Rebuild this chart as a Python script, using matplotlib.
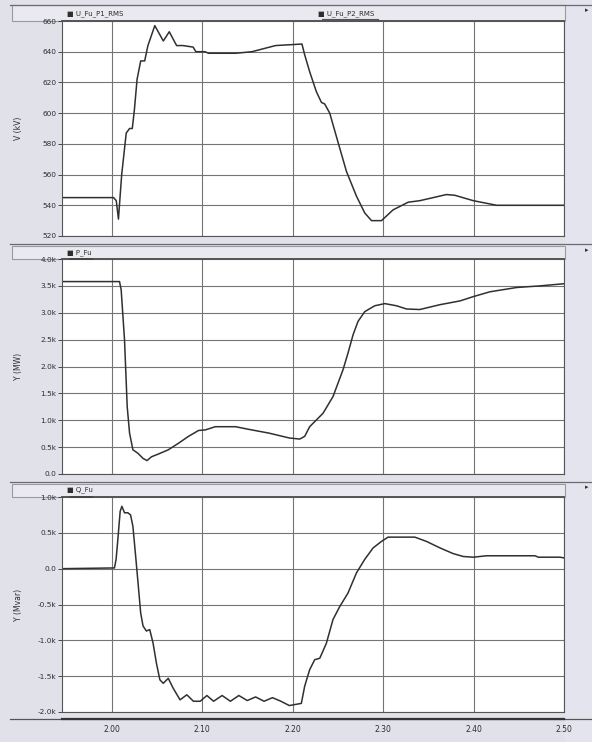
import matplotlib
matplotlib.use("Agg")
import matplotlib.pyplot as plt
from matplotlib.patches import Rectangle
from matplotlib.lines import Line2D

# ---------------- data ----------------
u_t = [1.945, 2.002, 2.005, 2.0074, 2.011, 2.016, 2.0197, 2.0227, 2.025, 2.028, 2.032, 2.0364,
       2.040, 2.0476, 2.057, 2.0636, 2.0717, 2.079, 2.090, 2.093, 2.103, 2.107, 2.137, 2.155,
       2.181, 2.2103, 2.2133, 2.2188, 2.2262, 2.2318, 2.2354, 2.241, 2.2502, 2.2595, 2.2705,
       2.2797, 2.2872, 2.2982, 2.311, 2.3277, 2.3406, 2.3554, 2.370, 2.3794, 2.3997, 2.4256,
       2.455, 2.50]
u_v = [545, 545, 543, 531, 560, 587, 590, 590, 602, 622, 634, 634,
       644, 657, 647, 653, 644, 644, 643, 640, 640, 639, 639, 640,
       644, 645, 638, 627, 614, 607, 606, 600, 581, 562, 546,
       535, 530, 530, 537, 542, 543, 545, 547, 546.5, 543, 540,
       540, 540]

p_t = [1.945, 2.0086, 2.0104, 2.0141, 2.0171, 2.0197, 2.0234, 2.029, 2.0346, 2.039, 2.0439,
       2.0513, 2.0625, 2.0736, 2.0848, 2.096, 2.1034, 2.1145, 2.1368, 2.1517, 2.174, 2.1963,
       2.2078, 2.2133, 2.2188, 2.2336, 2.2446, 2.2557, 2.2612, 2.2668, 2.2723, 2.2797, 2.2908,
       2.3019, 2.3148, 2.3259, 2.3406, 2.3628, 2.385, 2.3997, 2.4181, 2.4477, 2.4735, 2.50]
p_v = [3580, 3580, 3430, 2500, 1250, 760, 450, 385, 290, 250, 320,
       370, 450, 570, 700, 810, 820, 880, 880, 830, 760, 670,
       650, 700, 880, 1130, 1440, 1940, 2250, 2590, 2840, 3020, 3130,
       3170, 3130, 3070, 3060, 3150, 3220, 3300, 3390, 3470, 3500, 3540]

q_t = [1.945, 2.003, 2.0048, 2.0067, 2.0093, 2.0112, 2.0141, 2.0178, 2.0208, 2.0234, 2.0271,
       2.0297, 2.032, 2.0346, 2.0383, 2.042, 2.0457, 2.0494, 2.0532, 2.0569, 2.0625, 2.068,
       2.0755, 2.083, 2.0903, 2.0978, 2.1052, 2.1126, 2.122, 2.1312, 2.1405, 2.1498, 2.159,
       2.1684, 2.1777, 2.187, 2.1963, 2.2096, 2.2133, 2.2188, 2.2244, 2.23, 2.2373, 2.2446,
       2.252, 2.2612, 2.2705, 2.2797, 2.289, 2.2982, 2.3055, 2.3351, 2.348, 2.3628, 2.3775,
       2.3886, 2.3997, 2.4145, 2.4366, 2.468, 2.4716, 2.4956, 2.50]
q_v = [0, 10, 130, 400, 800, 870, 780, 780, 750, 590, 80,
       -290, -620, -800, -870, -850, -1040, -1320, -1550, -1600, -1530, -1670,
       -1830, -1760, -1850, -1850, -1770, -1850, -1770, -1850, -1770, -1840, -1790,
       -1850, -1800, -1850, -1910, -1880, -1640, -1410, -1270, -1250, -1040, -710,
       -530, -340, -60, 130, 290, 380, 440, 440, 380, 290, 210,
       170, 160, 180, 180, 180, 160, 160, 150]

x_ticks = [2.00, 2.10, 2.20, 2.30, 2.40, 2.50]
x_labels = ["2.00", "2.10", "2.20", "2.30", "2.40", "2.50"]

u_ticks = [520, 540, 560, 580, 600, 620, 640, 660]
u_labels = ["520", "540", "560", "580", "600", "620", "640", "660"]
p_ticks = [0, 500, 1000, 1500, 2000, 2500, 3000, 3500, 4000]
p_labels = ["0.0", "0.5k", "1.0k", "1.5k", "2.0k", "2.5k", "3.0k", "3.5k", "4.0k"]
q_ticks = [-2000, -1500, -1000, -500, 0, 500, 1000]
q_labels = ["-2.0k", "-1.5k", "-1.0k", "-0.5k", "0.0", "0.5k", "1.0k"]

ylabels = ["V (kV)", "Y (MW)", "Y (Mvar)"]
legends = [["U_Fu_P1_RMS", "U_Fu_P2_RMS"], ["P_Fu"], ["Q_Fu"]]

# ---------------- figure ----------------
W, H = 592, 742
fig = plt.figure(figsize=(W / 100, H / 100), dpi=100)
fig.patch.set_facecolor("#e1e1ea")

def fx(px):
    return px / W

def fy(py):
    return 1 - py / H

line_col = "#303030"
grid_col = "#747474"
txt_col = "#2e2e2e"

left_px, right_px = 62, 564
panels = [(21, 236), (259, 474), (497, 712)]
headers = [(5, 21), (246, 259), (484, 497)]

# right column strip
fig.add_artist(Rectangle((fx(565), 0), fx(W - 565), 1, transform=fig.transFigure,
                         facecolor="#e4e4ee", edgecolor="none", zorder=0))

series = [(u_t, u_v, u_ticks, u_labels, (520, 660)),
          (p_t, p_v, p_ticks, p_labels, (0, 4000)),
          (q_t, q_v, q_ticks, q_labels, (-2000, 1000))]

axes = []
for i, ((top, bot), (ht, hb), (t, v, yt, yl, ylim)) in enumerate(zip(panels, headers, series)):
    # header strip
    fig.add_artist(Rectangle((fx(12), fy(hb)), fx(565 - 12), fy(ht) - fy(hb),
                             transform=fig.transFigure, facecolor="#e9e9ef",
                             edgecolor="#9a9aa2", lw=0.8, zorder=0))
    ax = fig.add_axes([fx(left_px), fy(bot), fx(right_px - left_px), fy(top) - fy(bot)])
    ax.set_facecolor("white")
    ax.plot(t, v, color=line_col, lw=1.1)
    ax.set_xlim(1.945, 2.50)
    ax.set_ylim(*ylim)
    ax.set_yticks(yt)
    ax.set_yticklabels(yl, fontsize=5.3, color=txt_col)
    ax.set_xticks(x_ticks)
    if i == 2:
        ax.set_xticklabels(x_labels, fontsize=5.5, color=txt_col)
    else:
        ax.set_xticklabels([])
    ax.tick_params(axis="y", length=3, width=0.6, pad=1, colors=txt_col)
    ax.tick_params(axis="x", length=0, pad=9)
    ax.grid(True, color=grid_col, lw=0.8)
    for s in ax.spines.values():
        s.set_color("#555555")
        s.set_linewidth(0.8)
    ax.spines["top"].set_linewidth(1.4)
    ax.set_ylabel(ylabels[i], fontsize=5.5, color=txt_col)
    ax.yaxis.set_label_coords(-0.078, 0.5)
    axes.append(ax)

# legends in header strips
fig.text(fx(67), fy(14), "\u25a0 " + legends[0][0], fontsize=5, color=txt_col, va="center")
fig.text(fx(318), fy(14), "\u25a0 " + legends[0][1], fontsize=5, color=txt_col, va="center")
fig.add_artist(Line2D([fx(322), fx(378)], [fy(19), fy(19)], transform=fig.transFigure,
                      color="#555555", lw=0.8))
fig.text(fx(67), fy(253), "\u25a0 " + legends[1][0], fontsize=5, color=txt_col, va="center")
fig.add_artist(Line2D([fx(70), fx(92)], [fy(258.5), fy(258.5)], transform=fig.transFigure,
                      color="#444444", lw=1.2))
fig.text(fx(67), fy(490), "\u25a0 " + legends[2][0], fontsize=5, color=txt_col, va="center")
fig.add_artist(Line2D([fx(70), fx(92)], [fy(496.5), fy(496.5)], transform=fig.transFigure,
                      color="#444444", lw=1.2))

# separator lines
for yy in [5, 244, 482]:
    fig.add_artist(Line2D([fx(10), fx(592)], [fy(yy), fy(yy)], transform=fig.transFigure,
                          color="#6a6a72", lw=0.9))
fig.add_artist(Line2D([fx(10), fx(592)], [fy(719), fy(719)], transform=fig.transFigure,
                      color="#555555", lw=0.9))
fig.add_artist(Line2D([fx(left_px), fx(right_px)], [fy(719), fy(719)], transform=fig.transFigure,
                      color="#333333", lw=1.6))

# small marks in right column
for yy in [10, 250, 487]:
    fig.text(fx(587), fy(yy), "\u25b8", fontsize=5, color="#333333", va="center", ha="center")

fig.savefig("out.png", dpi=100, facecolor=fig.get_facecolor())
